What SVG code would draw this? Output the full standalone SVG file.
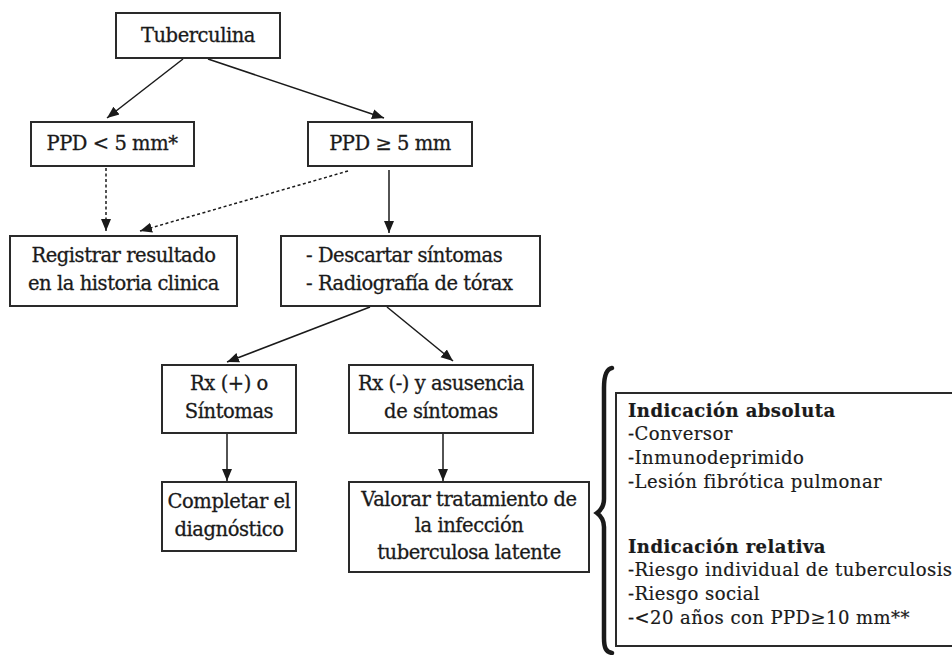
<svg xmlns="http://www.w3.org/2000/svg" width="952" height="655" viewBox="0 0 952 655">
<defs>
<marker id="ah" markerUnits="userSpaceOnUse" markerWidth="13" markerHeight="12" viewBox="0 0 13 12" refX="12" refY="6" orient="auto">
<path d="M0,1 L12,6 L0,11 Z" fill="#1a1a1a"/>
</marker>
<style>
.box{fill:#fff;stroke:#2a2a2a;stroke-width:2}
.t{font-family:"DejaVu Serif","Liberation Serif",serif;font-size:19.5px;letter-spacing:-0.45px;fill:#1a1a1a;stroke:#1a1a1a;stroke-width:0.3}
.m{text-anchor:middle}
.s{font-family:"DejaVu Serif","Liberation Serif",serif;font-size:18px;fill:#1a1a1a;letter-spacing:0.45px;stroke:#1a1a1a;stroke-width:0.2}
.b{font-weight:bold}
.ln{stroke:#1a1a1a;stroke-width:1.5;fill:none;marker-end:url(#ah)}
.dt{stroke-dasharray:3,2.5}
</style>
</defs>
<rect width="952" height="655" fill="#fff"/>
<g id="connectors">
<line class="ln" x1="183" y1="59" x2="107" y2="118"/>
<line class="ln" x1="208" y1="59" x2="384" y2="118"/>
<line class="ln dt" x1="106" y1="168" x2="106" y2="231"/>
<line class="ln dt" x1="348" y1="171" x2="140" y2="231"/>
<line class="ln" x1="389" y1="170" x2="389" y2="233"/>
<line class="ln" x1="370" y1="307" x2="227" y2="362"/>
<line class="ln" x1="387" y1="307" x2="453" y2="361"/>
<line class="ln" x1="227" y1="433" x2="227" y2="481"/>
<line class="ln" x1="443" y1="433" x2="443" y2="481"/>
</g>
<g id="n-tuberculina">
<rect class="box" x="116" y="13" width="164" height="45"/>
<text class="t m" x="198" y="42">Tuberculina</text>
</g>
<g id="n-ppd-menor">
<rect class="box" x="31" y="122" width="163" height="44"/>
<text class="t m" x="112" y="150">PPD &lt; 5 mm*</text>
</g>
<g id="n-ppd-mayor">
<rect class="box" x="308" y="122" width="164" height="44"/>
<text class="t m" x="390" y="150">PPD ≥ 5 mm</text>
</g>
<g id="n-registrar">
<rect class="box" x="10" y="236" width="227" height="70"/>
<text class="t m" x="123.5" y="262">Registrar resultado</text>
<text class="t m" x="123.5" y="290">en la historia clinica</text>
</g>
<g id="n-descartar">
<rect class="box" x="281" y="236" width="259" height="70"/>
<text class="t" x="306" y="262">- Descartar síntomas</text>
<text class="t" x="306" y="290">- Radiografía de tórax</text>
</g>
<g id="n-rxpos">
<rect class="box" x="162" y="365" width="134" height="68"/>
<text class="t m" x="229" y="390">Rx (+) o</text>
<text class="t m" x="229" y="418">Síntomas</text>
</g>
<g id="n-rxneg">
<rect class="box" x="349" y="365" width="184" height="68"/>
<text class="t m" x="441" y="390">Rx (-) y asusencia</text>
<text class="t m" x="441" y="418">de síntomas</text>
</g>
<g id="n-completar">
<rect class="box" x="162" y="482" width="134" height="69"/>
<text class="t m" x="229" y="508">Completar el</text>
<text class="t m" x="229" y="536">diagnóstico</text>
</g>
<g id="n-valorar">
<rect class="box" x="349" y="482" width="240" height="90"/>
<text class="t m" x="469" y="506">Valorar tratamiento de</text>
<text class="t m" x="469" y="532">la infección</text>
<text class="t m" x="469" y="559">tuberculosa latente</text>
</g>
<g id="brace">
<path d="M612,368 C606,369 604,376 604,388 L604,499 C604,506 601,510 597,513 C601,516 604,520 604,527 L604,638 C604,648 606,652 612,653" fill="none" stroke="#1a1a1a" stroke-width="4.5" stroke-linecap="round"/>
</g>
<g id="n-indicaciones">
<rect class="box" x="616" y="393" width="345" height="253"/>
<text class="s b" x="628" y="417">Indicación absoluta</text>
<text class="s" x="628" y="440">-Conversor</text>
<text class="s" x="628" y="464">-Inmunodeprimido</text>
<text class="s" x="628" y="488">-Lesión fibrótica pulmonar</text>
<text class="s b" x="628" y="553">Indicación relativa</text>
<text class="s" x="628" y="576">-Riesgo individual de tuberculosis</text>
<text class="s" x="628" y="600">-Riesgo social</text>
<text class="s" x="628" y="624">-&lt;20 años con PPD≥10 mm**</text>
</g>
</svg>
